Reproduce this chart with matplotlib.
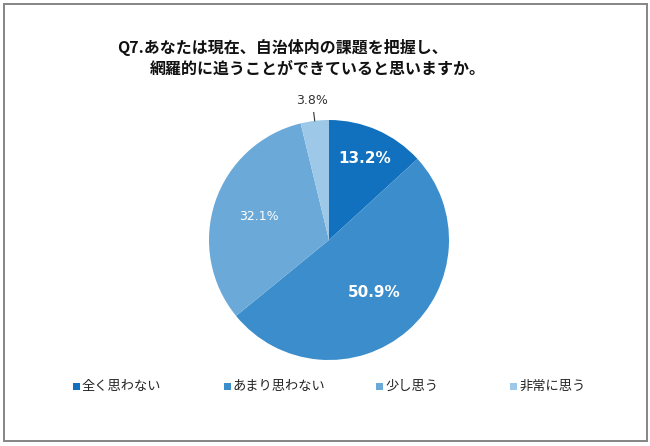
import numpy as np
import matplotlib
matplotlib.use("Agg")
import matplotlib.pyplot as plt
from matplotlib.patches import Rectangle

plt.rcParams['font.family'] = ['Noto Sans CJK JP', 'DejaVu Sans']

# data
labels = ["全く思わない", "あまり思わない", "少し思う", "非常に思う"]
values = [13.2, 50.9, 32.1, 3.8]
colors = ["#1171be", "#3b8dcb", "#6aa9d8", "#9dc8e8"]
title_lines = ["Q7.あなたは現在、自治体内の課題を把握し、",
               "網羅的に追うことができていると思いますか。"]

fig = plt.figure(figsize=(6.5, 4.46), dpi=100)

# grey frame
fig.patches.append(Rectangle((4 / 650, 5 / 446), 643 / 650, 437 / 446,
                             transform=fig.transFigure, fill=False,
                             edgecolor="#858585", linewidth=1.4))

# title
fig.text(117 / 650, 1 - 47 / 446, title_lines[0], fontsize=11.5,
         fontweight="bold", va="center", ha="left", color="#111111")
fig.text(150 / 650, 1 - 69 / 446, title_lines[1], fontsize=11.5,
         fontweight="bold", va="center", ha="left", color="#111111")

# pie
ax = fig.add_axes([209 / 650, 86 / 446, 240 / 650, 240 / 446])
wedges, _ = ax.pie(values, colors=colors, startangle=90, counterclock=False,
                   radius=1.0, wedgeprops=dict(linewidth=0))
ax.set_xlim(-1, 1)
ax.set_ylim(-1, 1)
ax.set_aspect("equal")
ax.axis("off")

# value labels
label_r = [0.74, 0.58, 0.62]
label_style = [dict(fontsize=11, fontweight="bold", color="white", family="DejaVu Sans"),
               dict(fontsize=11, fontweight="bold", color="white", family="DejaVu Sans"),
               dict(fontsize=9, color="white", family="DejaVu Sans")]
for w, v, r, st in zip(wedges[:3], values[:3], label_r, label_style):
    ang = np.deg2rad((w.theta1 + w.theta2) / 2)
    ax.text(r * np.cos(ang), r * np.sin(ang), f"{v:.1f}%",
            ha="center", va="center", **st)

# small slice with leader line
w = wedges[3]
ang = np.deg2rad((w.theta1 + w.theta2) / 2)
ax.plot([np.cos(ang), 1.07 * np.cos(ang)], [np.sin(ang), 1.07 * np.sin(ang)],
        color="#333333", linewidth=0.8, clip_on=False)
ax.text(-0.14, 1.16, f"{values[3]:.1f}%", ha="center", va="center",
        fontsize=9, color="#333333", family="DejaVu Sans")

# legend
legend_x = [73, 224, 376, 510]
for lab, col, x in zip(labels, colors, legend_x):
    fig.patches.append(Rectangle((x / 650, 1 - 390 / 446), 7 / 650, 7 / 446,
                                 transform=fig.transFigure, facecolor=col,
                                 edgecolor="none"))
    fig.text((x + 9) / 650, 1 - 386.5 / 446, lab, fontsize=9.5,
             va="center", ha="left", color="#222222")

fig.savefig("out.png", dpi=100)
